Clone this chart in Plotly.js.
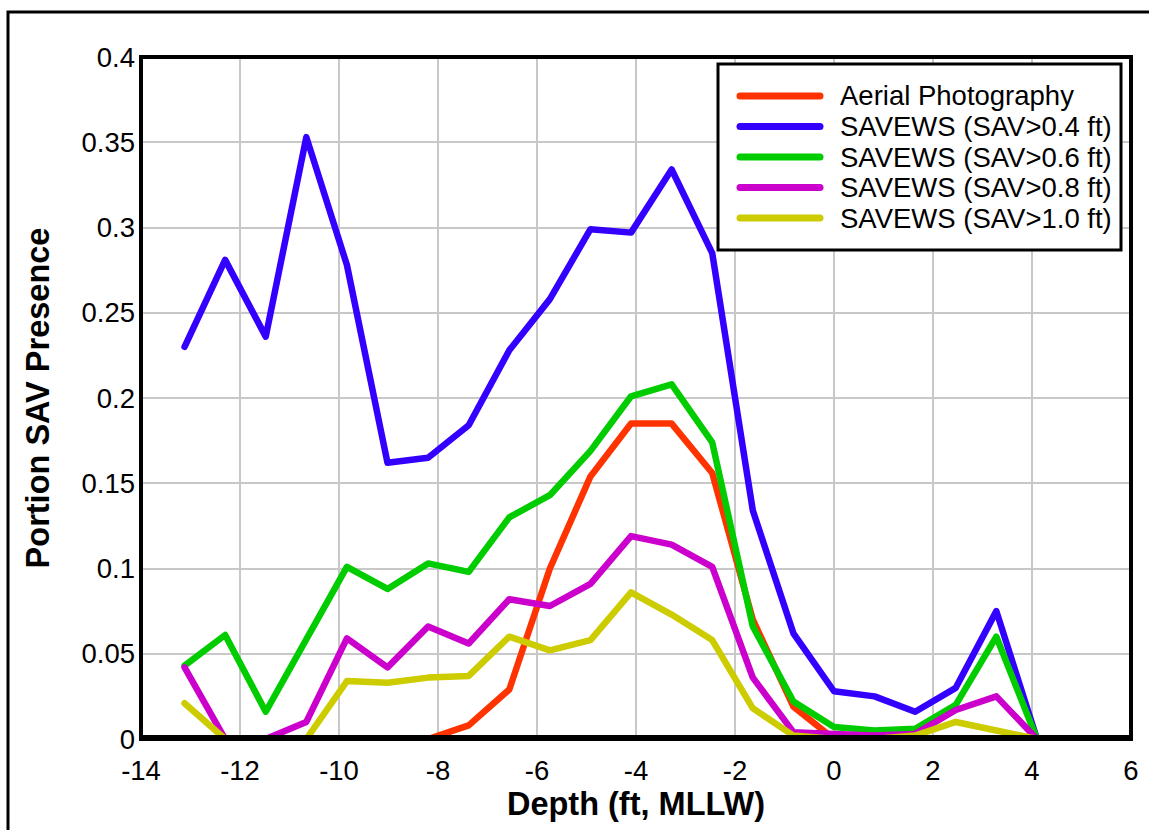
<!DOCTYPE html>
<html>
<head>
<meta charset="utf-8">
<script src="https://cdn.plot.ly/plotly-3.0.1.min.js"></script>
<style>
  html, body { margin: 0; padding: 0; background: #fff; }
  .scatterlayer path.js-line { stroke-linecap: round !important; stroke-linejoin: round !important; }
  .shapelayer path { stroke-linecap: round; }
</style>
</head>
<body>
<div id="chart" style="width:1149px;height:830px;"></div>
<script>
// Depth bins (ft, MLLW)
const depth = [-13.12, -12.30, -11.48, -10.66, -9.84, -9.02, -8.20, -7.38, -6.56, -5.74, -4.92, -4.10, -3.28, -2.46, -1.64, -0.82, 0, 0.82, 1.64, 2.46, 3.28, 4.10];

const aerial   = [0, 0, 0, 0, 0, 0, 0, 0.008, 0.029, 0.100, 0.154, 0.185, 0.185, 0.156, 0.070, 0.019, 0, 0, 0, 0, 0, 0];
const sav04    = [0.230, 0.281, 0.236, 0.353, 0.278, 0.162, 0.165, 0.184, 0.228, 0.258, 0.299, 0.297, 0.334, 0.285, 0.134, 0.062, 0.028, 0.025, 0.016, 0.030, 0.075, 0];
const sav06    = [0.043, 0.061, 0.016, 0.058, 0.101, 0.088, 0.103, 0.098, 0.130, 0.143, 0.169, 0.201, 0.208, 0.174, 0.066, 0.022, 0.007, 0.005, 0.006, 0.020, 0.060, 0];
const sav08    = [0.042, 0, 0, 0.010, 0.059, 0.042, 0.066, 0.056, 0.082, 0.078, 0.091, 0.119, 0.114, 0.101, 0.036, 0.004, 0.003, 0.002, 0.003, 0.017, 0.025, 0];
const sav10    = [0.021, 0, 0, 0, 0.034, 0.033, 0.036, 0.037, 0.060, 0.052, 0.058, 0.086, 0.073, 0.058, 0.018, 0.002, 0, 0, 0.002, 0.010, 0.005, 0];

const seriesNames  = ["Aerial Photography", "SAVEWS (SAV>0.4 ft)", "SAVEWS (SAV>0.6 ft)", "SAVEWS (SAV>0.8 ft)", "SAVEWS (SAV>1.0 ft)"];
const seriesColors = ["#FF3300", "#3300FF", "#00CC00", "#CC00CC", "#CCCC00"];
const seriesValues = [aerial, sav04, sav06, sav08, sav10];

const xTickVals   = [-14, -12, -10, -8, -6, -4, -2, 0, 2, 4, 6];
const xTickLabels = ["-14", "-12", "-10", "-8", "-6", "-4", "-2", "0", "2", "4", "6"];
const yTickVals   = [0, 0.05, 0.1, 0.15, 0.2, 0.25, 0.3, 0.35, 0.4];
const yTickLabels = ["0", "0.05", "0.1", "0.15", "0.2", "0.25", "0.3", "0.35", "0.4"];

const FONT = "Liberation Sans, Arial, sans-serif";
const W = 1149, H = 830;
const M = { l: 141, r: 18, t: 57, b: 91 };
const plotW = W - M.l - M.r, plotH = H - M.t - M.b;
// pixel -> paper helpers (for frame and legend decoration only)
const px = v => (v - M.l) / plotW;
const py = v => (H - M.b - v) / plotH;

const traces = seriesNames.map((name, i) => ({
  x: depth,
  y: seriesValues[i],
  name: name,
  type: "scatter",
  mode: "lines",
  line: { color: seriesColors[i], width: 6.5 },
  hoverinfo: "x+y+name",
  showlegend: false
}));

// Legend box (drawn inside the plot, top-right)
const legBox = { x0: 718, x1: 1121, y0: 64, y1: 250 };
const legRow0 = 96, legRowStep = 30.5;
const legLineX0 = 740, legLineX1 = 820, legTextX = 838;

const shapes = [
  // legend box
  { type: "rect", xref: "paper", yref: "paper", x0: px(legBox.x0), x1: px(legBox.x1), y0: py(legBox.y1), y1: py(legBox.y0),
    line: { color: "#000", width: 3 }, fillcolor: "#ffffff", layer: "above" }
];
const annotations = [];
seriesNames.forEach((name, i) => {
  const yy = legRow0 + i * legRowStep;
  shapes.push({ type: "line", xref: "paper", yref: "paper", x0: px(legLineX0), x1: px(legLineX1), y0: py(yy), y1: py(yy),
    line: { color: seriesColors[i], width: 7 }, layer: "above" });
  annotations.push({ xref: "paper", yref: "paper", x: px(legTextX), y: py(yy), xanchor: "left", yanchor: "middle",
    text: name, showarrow: false, font: { family: FONT, size: 27.5, color: "#000" } });
});
// plot frame + bottom cover + outer figure frame
shapes.push(
  { type: "rect", xref: "paper", yref: "paper", x0: 0, x1: 1, y0: 0, y1: 1,
    line: { color: "#000", width: 4 }, fillcolor: "rgba(0,0,0,0)", layer: "above" },
  { type: "line", xref: "paper", yref: "paper", x0: 2 / plotW, x1: 1 - 2 / plotW, y0: 2 / plotH, y1: 2 / plotH,
    line: { color: "#000", width: 4 }, layer: "above" },
  { type: "rect", xref: "paper", yref: "paper", x0: px(8), x1: px(1200), y0: py(900), y1: py(12),
    line: { color: "#000", width: 3 }, fillcolor: "rgba(0,0,0,0)", layer: "above" }
);

const layout = {
  width: W,
  height: H,
  margin: M,
  paper_bgcolor: "#ffffff",
  plot_bgcolor: "#ffffff",
  font: { family: FONT, size: 27.5, color: "#000" },
  showlegend: false,
  xaxis: {
    range: [-14, 6],
    tickmode: "array", tickvals: xTickVals, ticktext: xTickLabels,
    showgrid: true, gridcolor: "#c8c8c8", gridwidth: 2,
    zeroline: false, showline: false, ticks: "",
    ticklabelstandoff: 12,
    tickfont: { family: FONT, size: 27.5, color: "#000" },
    title: { text: "<b>Depth (ft, MLLW)</b>", font: { family: FONT, size: 32.5, color: "#000" }, standoff: 6 },
    fixedrange: true
  },
  yaxis: {
    range: [0, 0.4],
    tickmode: "array", tickvals: yTickVals, ticktext: yTickLabels,
    showgrid: true, gridcolor: "#c8c8c8", gridwidth: 2,
    zeroline: false, showline: false, ticks: "",
    ticklabelstandoff: 5,
    tickfont: { family: FONT, size: 27.5, color: "#000" },
    title: { text: "<b>Portion SAV Presence</b>", font: { family: FONT, size: 32.5, color: "#000" }, standoff: 22 },
    fixedrange: true
  },
  shapes: shapes,
  annotations: annotations
};

Plotly.newPlot("chart", traces, layout, { displayModeBar: false, staticPlot: true });
</script>
</body>
</html>
